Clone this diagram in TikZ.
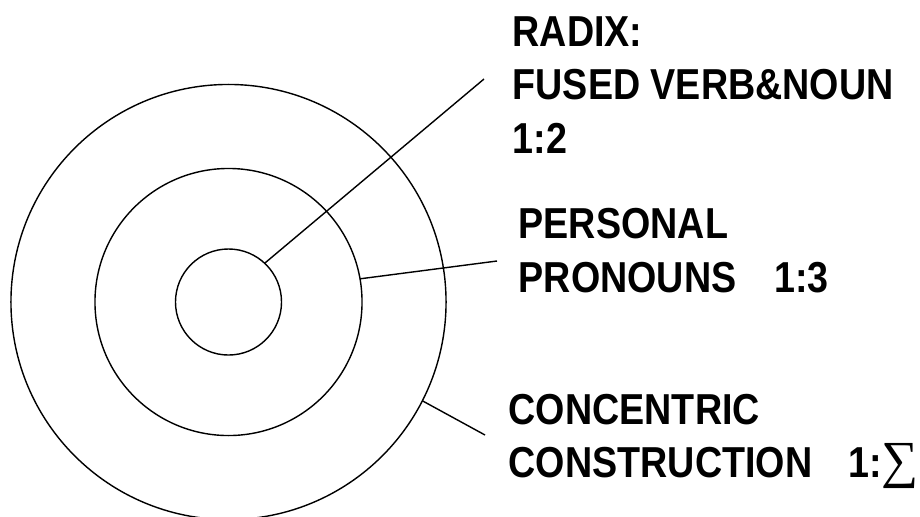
\documentclass[tikz,border=0pt]{standalone}
\usepackage{fontspec}
\setmainfont{Liberation Sans}[FakeStretch=0.87]
\newfontfamily\sumfont{Liberation Serif}

\tikzset{
  ring/.style={circle, draw, inner sep=0pt, outer sep=0pt},
  tag/.style={anchor=base west, inner sep=0pt, align=left,
    font=\fontsize{30.8}{37.7}\selectfont\bfseries}
}

\begin{document}
\begin{tikzpicture}[x=0.025cm, y=-0.025cm, line width=1pt]
            \useasboundingbox (0,0) rectangle (920,516);

            % Rings
            \node [ring, minimum size=10.875cm] (outer) at (228.5,302) {};
            \node [ring, minimum size=6.675cm] (middle) at (228.5,302) {};
            \node [ring, minimum size=2.65cm] (core) at (228.5,302) {};

            % Labels (anchored on the last line)
            \node [tag] (radix) at (512,153) {RADIX:\\FUSED VERB\&NOUN\\1:2};
            \node [tag] (pron) at (518,292) {PERSONAL\\PRONOUNS\hspace{0.95cm}1:3};
            \node [tag] (conc) at (508,477) {CONCENTRIC\\CONSTRUCTION\hspace{0.9cm}1:{\sumfont\mdseries\fontsize{37}{37}\selectfont ∑}};

            % Leader ends
            \coordinate (radixend) at (484,79);
            \coordinate (pronend) at (497,261);
            \coordinate (concend) at (485,435);

            % Paths
            \draw (core.47) -- (radixend);
            \draw (middle.10) -- (pronend);
            \draw (outer.-27.5) -- (concend);
        \end{tikzpicture}
\end{document}
